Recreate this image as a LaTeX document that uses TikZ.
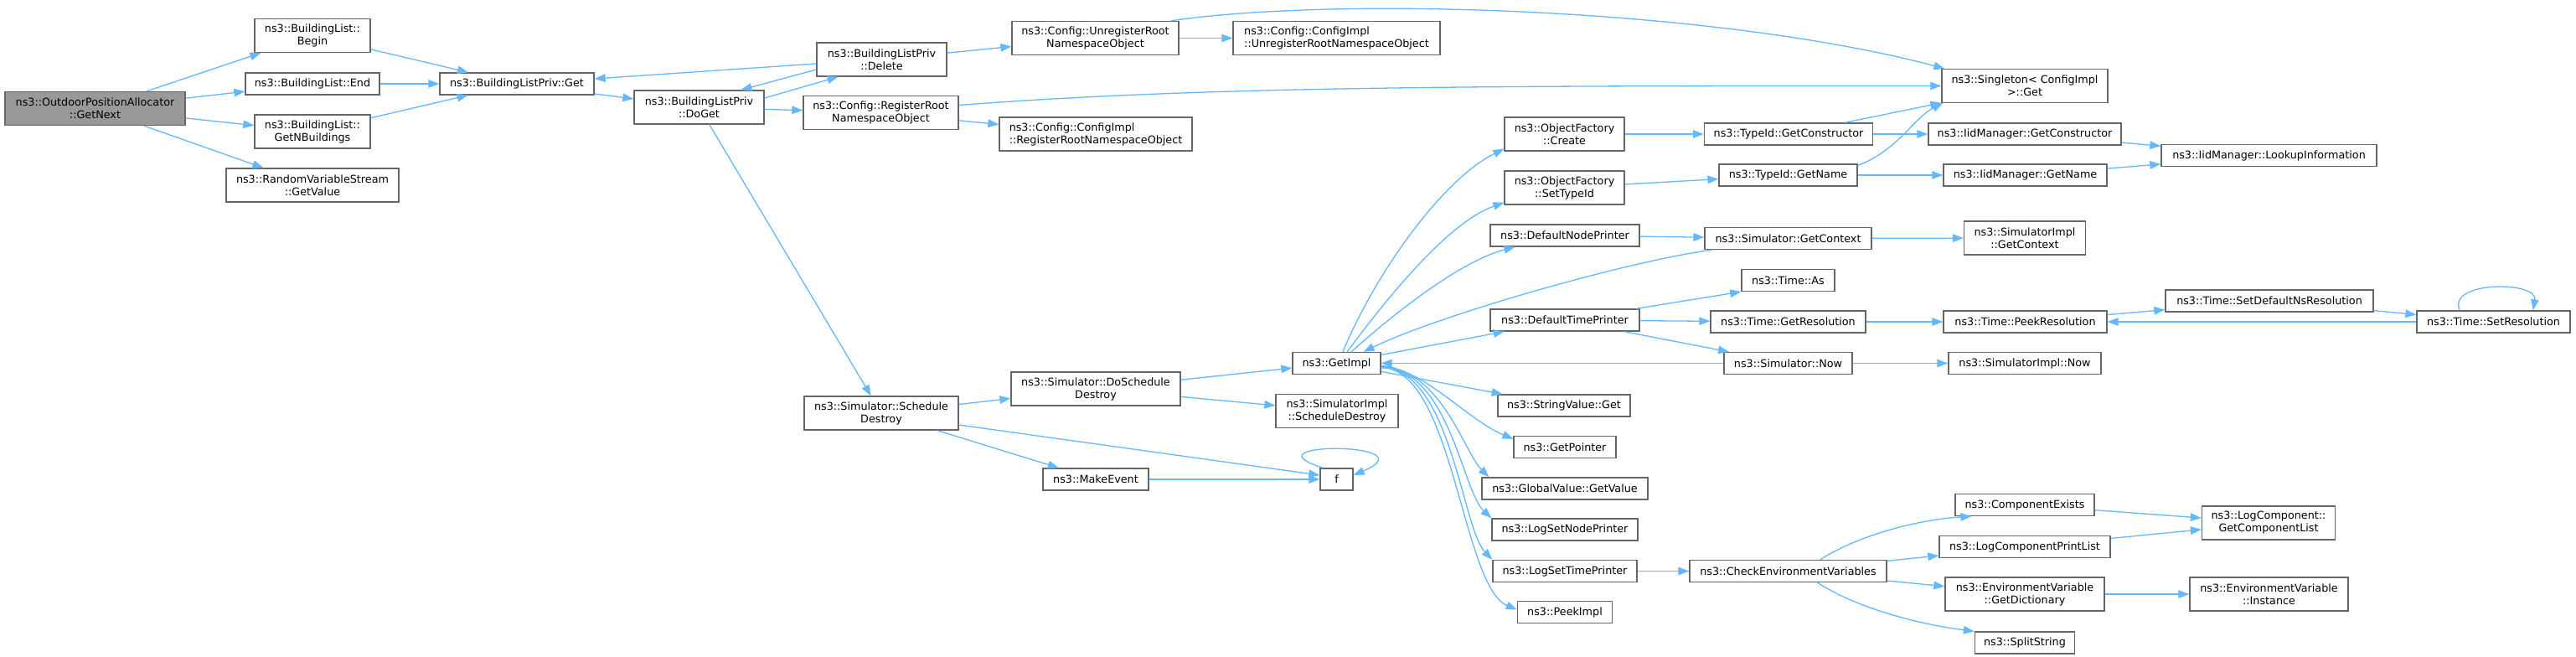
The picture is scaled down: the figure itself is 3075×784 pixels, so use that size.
\documentclass[tikz,border=0pt]{standalone}
\usepackage{fontspec}
\setmainfont{DejaVu Sans}
\usetikzlibrary{arrows.meta}
\definecolor{callblue}{HTML}{63B8FF}
\definecolor{boxgray}{HTML}{666666}
\definecolor{mainfill}{HTML}{999999}

\begin{document}
\begin{tikzpicture}[x=1pt,y=-1pt,
  func/.style={draw=boxgray, fill=white, line width=1.3pt, inner xsep=2pt, inner ysep=0pt,
    minimum height=26pt, align=center, font=\fontsize{12.75}{15}\selectfont},
  func2/.style={func, minimum height=40pt},
  call/.style={draw=callblue, line width=1.3pt, -{Triangle[length=13pt,width=9.5pt]}}]
  \useasboundingbox (0,0) rectangle (3075,784);
  \fill[white] (0,0) rectangle (3075,784);

  \node[func2, fill=mainfill, minimum width=215pt] (GetNext) at (113.5,129.5) {ns3::OutdoorPositionAllocator\\::GetNext};
  \node[func2, minimum width=138pt] (Begin) at (373,42.5) {ns3::BuildingList::\\Begin};
  \node[func, minimum width=160pt] (End) at (373,100) {ns3::BuildingList::End};
  \node[func2, minimum width=138pt] (GetNBuildings) at (373,157) {ns3::BuildingList::\\GetNBuildings};
  \node[func2, minimum width=206pt] (RvsGetValue) at (373,221) {ns3::RandomVariableStream\\::GetValue};
  \node[func, minimum width=184pt] (BlpGet) at (617,100) {ns3::BuildingListPriv::Get};
  \node[func2, minimum width=155pt] (DoGet) at (834.5,128) {ns3::BuildingListPriv\\::DoGet};
  \node[func2, minimum width=155pt] (Delete) at (1052.5,71) {ns3::BuildingListPriv\\::Delete};
  \node[func2, minimum width=199pt] (UnregRoot) at (1307.5,45.5) {ns3::Config::UnregisterRoot\\NamespaceObject};
  \node[func2, minimum width=247pt, align=left] (CfgUnreg) at (1595.5,45.5) {ns3::Config::ConfigImpl\\::UnregisterRootNamespaceObject};
  \node[func2, minimum width=185pt] (RegRoot) at (1051.5,134.5) {ns3::Config::RegisterRoot\\NamespaceObject};
  \node[func2, minimum width=230pt, align=left] (CfgReg) at (1308,160) {ns3::Config::ConfigImpl\\::RegisterRootNamespaceObject};
  \node[func2, minimum width=198pt] (Singleton) at (2417,102.5) {ns3::Singleton< ConfigImpl\\ >::Get};
  \node[func2, minimum width=184pt] (SchedDestroy) at (1052,493) {ns3::Simulator::Schedule\\Destroy};
  \node[func2, minimum width=202pt] (DoSchedDestroy) at (1308,464) {ns3::Simulator::DoSchedule\\Destroy};
  \node[func, minimum width=105pt] (GetImpl) at (1595.5,433.5) {ns3::GetImpl};
  \node[func2, minimum width=146pt] (ImplSchedDestroy) at (1596,490.7) {ns3::SimulatorImpl\\::ScheduleDestroy};
  \node[func, minimum width=126pt] (MakeEvent) at (1308,572) {ns3::MakeEvent};
  \node[func, minimum width=39pt] (f) at (1595.5,572) {f};
  \node[func2, minimum width=143pt] (Create) at (1867.5,160) {ns3::ObjectFactory\\::Create};
  \node[func2, minimum width=143pt] (SetTypeId) at (1867.5,224) {ns3::ObjectFactory\\::SetTypeId};
  \node[func, minimum width=178pt] (NodePrinter) at (1868,281) {ns3::DefaultNodePrinter};
  \node[func, minimum width=178pt] (TimePrinter) at (1868,382) {ns3::DefaultTimePrinter};
  \node[func, minimum width=158pt] (StringGet) at (1867,484) {ns3::StringValue::Get};
  \node[func, minimum width=122pt] (GetPointer) at (1868,533.5) {ns3::GetPointer};
  \node[func, minimum width=198pt] (GlobalGetValue) at (1868,583) {ns3::GlobalValue::GetValue};
  \node[func, minimum width=174pt] (SetNodePrinter) at (1868,632) {ns3::LogSetNodePrinter};
  \node[func, minimum width=172pt] (SetTimePrinter) at (1868,681.5) {ns3::LogSetTimePrinter};
  \node[func, minimum width=113pt] (PeekImpl) at (1868,730.5) {ns3::PeekImpl};
  \node[func, minimum width=201pt] (TidGetCtor) at (2135,160) {ns3::TypeId::GetConstructor};
  \node[func, minimum width=165pt] (TidGetName) at (2134.5,209) {ns3::TypeId::GetName};
  \node[func, minimum width=199pt] (SimGetContext) at (2134.5,284.5) {ns3::Simulator::GetContext};
  \node[func, minimum width=111pt] (TimeAs) at (2134.5,334.5) {ns3::Time::As};
  \node[func, minimum width=185pt] (GetRes) at (2134.5,384) {ns3::Time::GetResolution};
  \node[func, minimum width=153pt] (SimNow) at (2134.5,433.5) {ns3::Simulator::Now};
  \node[func, minimum width=235pt] (CheckEnv) at (2134.5,681.5) {ns3::CheckEnvironmentVariables};
  \node[func, minimum width=230pt] (IidGetCtor) at (2417,160) {ns3::IidManager::GetConstructor};
  \node[func, minimum width=195pt] (IidGetName) at (2417.5,209) {ns3::IidManager::GetName};
  \node[func2, minimum width=145pt] (ImplGetContext) at (2417,284) {ns3::SimulatorImpl\\::GetContext};
  \node[func, minimum width=195pt] (PeekRes) at (2417.5,384) {ns3::Time::PeekResolution};
  \node[func, minimum width=182pt] (ImplNow) at (2417,433.5) {ns3::SimulatorImpl::Now};
  \node[func, minimum width=166pt] (CompExists) at (2417,602.5) {ns3::ComponentExists};
  \node[func, minimum width=204pt] (PrintList) at (2417,652.5) {ns3::LogComponentPrintList};
  \node[func2, minimum width=190pt] (GetDict) at (2417,709) {ns3::EnvironmentVariable\\::GetDictionary};
  \node[func, minimum width=119pt] (SplitString) at (2417,767) {ns3::SplitString};
  \node[func, minimum width=257pt] (Lookup) at (2708.5,185.5) {ns3::IidManager::LookupInformation};
  \node[func, minimum width=248pt] (SetDefaultRes) at (2709,359) {ns3::Time::SetDefaultNsResolution};
  \node[func2, minimum width=159pt] (CompList) at (2708,624) {ns3::LogComponent::\\GetComponentList};
  \node[func2, minimum width=189pt] (EnvInstance) at (2708.5,709) {ns3::EnvironmentVariable\\::Instance};
  \node[func, minimum width=183pt] (SetRes) at (2976.5,384) {ns3::Time::SetResolution};

  \draw[call] (GetNext) -- (Begin);
  \draw[call] (GetNext) -- (End);
  \draw[call] (GetNext) -- (GetNBuildings);
  \draw[call] (GetNext) -- (RvsGetValue);
  \draw[call] (Begin) -- (BlpGet);
  \draw[call] (End) -- (BlpGet);
  \draw[call] (GetNBuildings) -- (BlpGet);
  \draw[call] (BlpGet) -- (DoGet);
  \draw[call] ([yshift=11pt]DoGet.east) -- ([xshift=-52pt]Delete.south);
  \draw[call] ([yshift=-12pt]Delete.west) -- ([xshift=50pt]DoGet.north);
  \draw[call] ([yshift=-5pt]Delete.west) -- ([yshift=6pt]BlpGet.east);
  \draw[call] (Delete) -- (UnregRoot);
  \draw[call] (UnregRoot) -- (CfgUnreg);
  \draw[call] ([xshift=-10pt]UnregRoot.north east) .. controls (1600,-5) and (2050,10) .. ([xshift=4pt]Singleton.north west);
  \draw[call] (DoGet) -- (RegRoot);
  \draw[call] (RegRoot) -- (CfgReg);
  \draw[call] ([yshift=9pt]RegRoot.east) .. controls (1450,102) and (1800,102.5) .. (Singleton.west);
  \draw[call] (DoGet) -- (SchedDestroy);
  \draw[call] (SchedDestroy) -- (DoSchedDestroy);
  \draw[call] (SchedDestroy) -- (MakeEvent);
  \draw[call] ([yshift=-14pt]SchedDestroy.east) -- ([yshift=5pt]f.west);
  \draw[call] (MakeEvent) -- (f);
  \draw[call] ([xshift=4pt]f.north west) .. controls (1480,527) and (1710,527) .. ([yshift=5pt]f.east);
  \draw[call] (DoSchedDestroy) -- (GetImpl);
  \draw[call] (DoSchedDestroy) -- (ImplSchedDestroy);

  \draw[call] ([xshift=7.5pt]GetImpl.north) .. controls (1640,330) and (1720,215) .. ([yshift=3pt]Create.south west);
  \draw[call] ([xshift=12.5pt]GetImpl.north) .. controls (1660,350) and (1730,265) .. ([yshift=3pt]SetTypeId.south west);
  \draw[call] ([xshift=17.5pt]GetImpl.north) .. controls (1680,360) and (1750,310) .. ([xshift=30pt]NodePrinter.south west);
  \draw[call] (GetImpl) -- (TimePrinter);
  \draw[call] (GetImpl) -- (StringGet);
  \draw[call] ([yshift=-3pt]GetImpl.east) .. controls (1700,440) and (1750,500) .. ([yshift=-4pt]GetPointer.north west);
  \draw[call] ([yshift=-4pt]GetImpl.east) .. controls (1720,440) and (1748,540) .. ([xshift=9pt]GlobalGetValue.north west);
  \draw[call] ([yshift=-5pt]GetImpl.east) .. controls (1730,440) and (1745,585) .. (SetNodePrinter.north west);
  \draw[call] ([yshift=-5pt]GetImpl.east) .. controls (1732,440) and (1745,630) .. (SetTimePrinter.north west);
  \draw[call] ([yshift=-5pt]GetImpl.east) .. controls (1735,440) and (1745,700) .. ([yshift=3pt]PeekImpl.west);
  \draw[call] ([xshift=10pt]SimGetContext.south west) .. controls (1950,310) and (1720,375) .. ([xshift=32pt]GetImpl.north);
  \draw[call] (SimNow) -- (GetImpl);

  \draw[call] (Create) -- (TidGetCtor);
  \draw[call] (TidGetCtor) -- (Singleton);
  \draw[call] (TidGetCtor) -- (IidGetCtor);
  \draw[call] (IidGetCtor) -- (Lookup);
  \draw[call] (SetTypeId) -- (TidGetName);
  \draw[call] (TidGetName) -- (IidGetName);
  \draw[call] ([yshift=-2pt]TidGetName.north east) .. controls (2265,180) and (2285,140) .. ([xshift=2pt]Singleton.south west);
  \draw[call] (IidGetName) -- (Lookup);
  \draw[call] (NodePrinter) -- (SimGetContext);
  \draw[call] (SimGetContext) -- (ImplGetContext);
  \draw[call] (TimePrinter) -- (TimeAs.south west);
  \draw[call] (TimePrinter) -- (GetRes);
  \draw[call] (TimePrinter) -- (SimNow);
  \draw[call] (GetRes) -- (PeekRes);
  \draw[call] (PeekRes) -- (SetDefaultRes);
  \draw[call] (SetDefaultRes) -- (SetRes);
  \draw[call] (SetRes) -- (PeekRes);
  \draw[call] ([xshift=52pt]SetRes.north west) .. controls (2920,335) and (3030,335) .. ([xshift=-45pt]SetRes.north east);
  \draw[call] (SimNow) -- (ImplNow);

  \draw[call] (SetTimePrinter) -- (CheckEnv);
  \draw[call] ([xshift=38pt]CheckEnv.north) .. controls (2220,638) and (2290,620) .. ([xshift=20pt]CompExists.south west);
  \draw[call] (CheckEnv) -- (PrintList);
  \draw[call] (CheckEnv) -- (GetDict);
  \draw[call] ([xshift=35pt]CheckEnv.south) .. controls (2215,725) and (2290,745) .. (SplitString.north west);
  \draw[call] (CompExists) -- (CompList);
  \draw[call] (PrintList) -- (CompList);
  \draw[call] (GetDict) -- (EnvInstance);
\end{tikzpicture}
\end{document}
